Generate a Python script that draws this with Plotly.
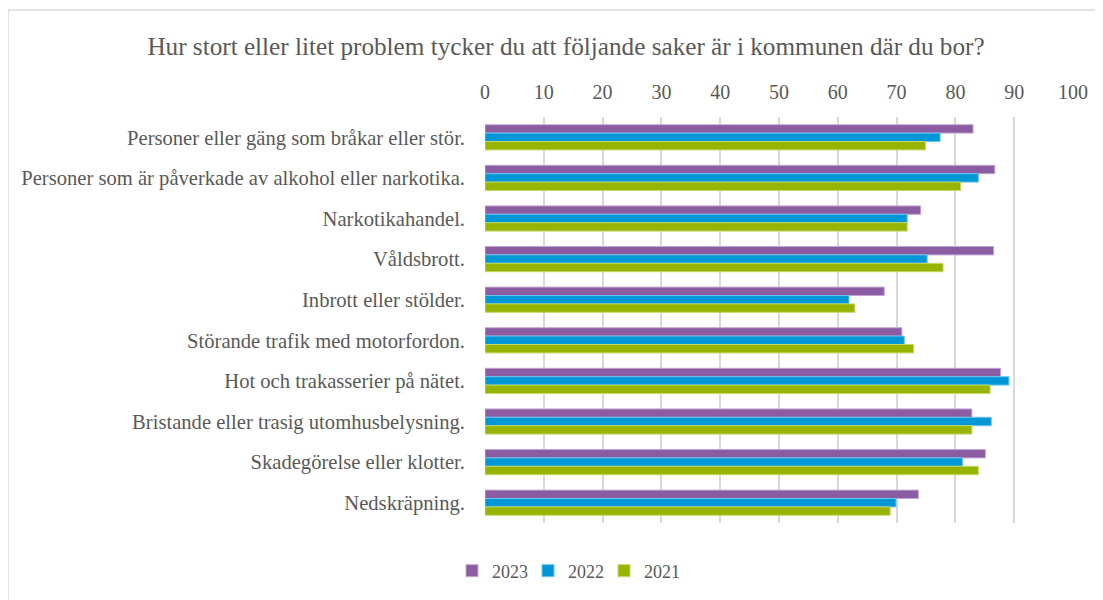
import plotly.graph_objects as go

categories = [
    "Personer eller gäng som bråkar eller stör.",
    "Personer som är påverkade av alkohol eller narkotika.",
    "Narkotikahandel.",
    "Våldsbrott.",
    "Inbrott eller stölder.",
    "Störande trafik med motorfordon.",
    "Hot och trakasserier på nätet.",
    "Bristande eller trasig utomhusbelysning.",
    "Skadegörelse eller klotter.",
    "Nedskräpning.",
]
v2023 = [83.0, 86.7, 74.1, 86.5, 67.9, 70.9, 87.7, 82.8, 85.1, 73.7]
v2022 = [77.4, 83.9, 71.8, 75.2, 61.9, 71.3, 89.1, 86.1, 81.2, 69.9]
v2021 = [74.9, 80.9, 71.8, 77.9, 62.9, 72.9, 85.9, 82.8, 83.9, 68.9]
series_names = ["2023", "2022", "2021"]
tick_vals = [0, 10, 20, 30, 40, 50, 60, 70, 80, 90, 100]

colors = ["#8c5ca2", "#0097d6", "#97b400"]
edge = ["#c3a6d1", "#66c4ee", "#c4d866"]
FONT = "Liberation Serif, DejaVu Serif, serif"
GRAY = "#595959"
OFF = 8  # page body offset

fig = go.Figure()
for name, vals, c, e in zip(series_names, [v2023, v2022, v2021], colors, edge):
    fig.add_trace(go.Bar(
        y=categories, x=vals, name=name, orientation="h",
        opacity=0.999,
        marker=dict(color=c, line=dict(color=e, width=1)),
    ))

L = 485 - OFF
T = 117 - OFF
R = 1103 - (1073 - OFF)
B = 600 - (523 - OFF)
pw, ph = 1103 - L - R, 600 - T - B

fig.update_layout(
    width=1103, height=600,
    margin=dict(l=L, r=R, t=T, b=B, pad=0),
    paper_bgcolor="white", plot_bgcolor="white",
    barmode="group", bargap=0.38, bargroupgap=0,
    font=dict(family=FONT, color=GRAY, size=20),
    title=dict(
        text="Hur stort eller litet problem tycker du att följande saker är i kommunen där du bor?",
        x=(566 - OFF) / 1103, xanchor="center", xref="container",
        y=1 - (46 - OFF) / 600, yanchor="middle", yref="container",
        font=dict(family=FONT, size=25.2, color=GRAY),
    ),
    xaxis=dict(
        side="top", range=[0, 100], tickvals=tick_vals,
        showgrid=True, gridcolor="#d9d9d9", gridwidth=2,
        zeroline=False, showline=False, ticks="",
        tickfont=dict(family=FONT, size=20, color=GRAY),
        ticklabelstandoff=13,
    ),
    yaxis=dict(
        autorange="reversed", showgrid=False, zeroline=False, showline=False,
        ticks="", tickfont=dict(family=FONT, size=20.6, color=GRAY),
        ticklabelstandoff=19,
    ),
    legend=dict(
        orientation="h", x=(452 - 485) / pw, xanchor="left",
        y=-(571 - 523) / ph, yanchor="middle",
        font=dict(family=FONT, size=18, color=GRAY),
        itemwidth=30, traceorder="normal",
        entrywidth=31, entrywidthmode="pixels",
    ),
    shapes=[dict(
        type="rect", xref="paper", yref="paper", layer="above",
        x0=(8 - 485) / pw, x1=(1115 - 485) / pw,
        y0=(523 - 612) / ph, y1=(523 - 10) / ph,
        line=dict(color="#d9d9d9", width=1.5), fillcolor="rgba(0,0,0,0)",
    )],
)

fig.write_html("out.html")
